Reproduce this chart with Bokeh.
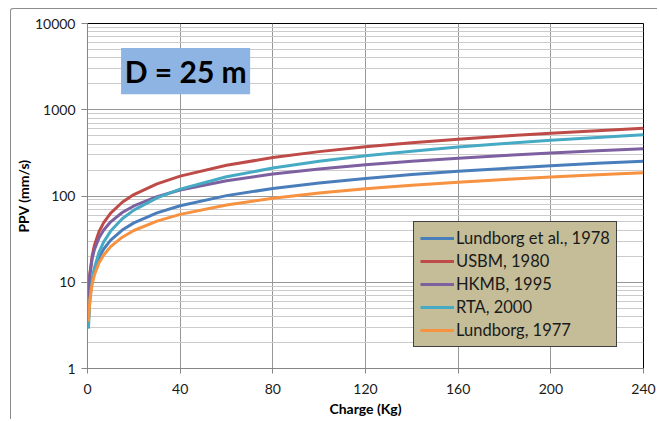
from bokeh.plotting import figure
from bokeh.models import (FixedTicker, NumeralTickFormatter, Legend, LegendItem,
                          BoxAnnotation, Label)
from bokeh.embed import file_html
from bokeh.resources import INLINE

# ---- data (Charge Q in kg, PPV in mm/s) ----
charge = [0.4, 1, 2, 3, 5, 7, 10, 15, 20, 30, 40, 60, 80, 100, 120, 140, 160, 180, 200, 220, 240]

lundborg_1978 = [3.6, 6.7, 10.6, 13.9, 19.4, 24.3, 30.8, 40.3, 48.8, 63.8, 77.2, 101, 122.2,
                 141.8, 160, 177, 193.5, 209, 224, 239, 253]
usbm_1980 = [6.4, 12.3, 20.1, 26.9, 38.7, 49.2, 63.4, 84.6, 103.8, 138.5, 170, 227, 279,
             327, 372, 415, 456, 496, 535, 572, 609]
hkmb_1995 = [7.0, 12.2, 18.7, 24.0, 32.8, 40.3, 50.2, 64.3, 76.7, 98.4, 117.4, 150.5, 179.5,
             205.8, 230, 253, 274.6, 295, 315, 334, 352]
rta_2000 = [2.9, 6.1, 10.65, 14.8, 22.4, 29.4, 39.2, 54.4, 68.6, 95.3, 120.2, 166.9, 210.7,
            252.4, 292.5, 331, 369, 406, 442, 477, 512]
lundborg_1977 = [3.5, 6.2, 9.5, 12.2, 16.8, 20.7, 25.9, 33.3, 39.8, 51.2, 61.2, 78.7, 94.1,
                 108.1, 121, 133.2, 144.7, 155.7, 166.2, 176.3, 186]

series_names = ["Lundborg et al., 1978", "USBM, 1980", "HKMB, 1995", "RTA, 2000", "Lundborg, 1977"]
series_values = [lundborg_1978, usbm_1980, hkmb_1995, rta_2000, lundborg_1977]
series_colors = ["#4A7EBB", "#BE4B48", "#7D60A0", "#46AAC5", "#F69240"]

x_ticks = [0, 40, 80, 120, 160, 200, 240]
y_ticks = [1, 10, 100, 1000, 10000]
y_minor = [m * d for d in [1, 10, 100, 1000] for m in range(2, 10)]

title_text = "D = 25 m"
x_title = "Charge (Kg)"
y_title = "PPV (mm/s)"

FONT = "Lato"

p = figure(width=647, height=411, x_range=(0, 240), y_range=(1, 10000),
           y_axis_type="log", output_backend="svg", toolbar_location=None,
           min_border_left=76, min_border_right=15, min_border_top=14, min_border_bottom=52)

p.margin = (8, 0, 0, 10)
p.styles = {"border-top": "1px solid #8c8c8c", "border-left": "1px solid #8c8c8c",
            "border-top-left-radius": "3px"}

p.outline_line_color = "black"
p.outline_line_width = 1
p.background_fill_color = "white"
p.border_fill_color = "white"

# axes
p.xaxis.ticker = FixedTicker(ticks=x_ticks)
p.yaxis.ticker = FixedTicker(ticks=y_ticks, minor_ticks=y_minor)
p.yaxis.formatter = NumeralTickFormatter(format="0")
for ax in (p.xaxis[0], p.yaxis[0]):
    ax.axis_line_color = "#868686"
    ax.major_tick_line_color = "#868686"
    ax.minor_tick_line_color = None
    ax.major_label_text_font = FONT
    ax.major_label_text_font_size = "14px"
    ax.major_label_text_color = "#1a1a1a"
    ax.axis_label_text_font = FONT
    ax.axis_label_text_font_style = "bold"
    ax.axis_label_text_font_size = "14px"
    ax.axis_label_text_color = "black"
p.yaxis.major_tick_out = 6
p.yaxis.major_tick_in = 0
p.yaxis.major_label_standoff = 6
p.xaxis.major_tick_out = 5
p.xaxis.major_tick_in = 0
p.xaxis.major_label_standoff = 10
p.yaxis.axis_label = y_title
p.xaxis.axis_label = x_title
p.yaxis.axis_label_standoff = 0
p.xaxis.axis_label_standoff = 3

# grids
p.xgrid.grid_line_color = "#979797"
p.ygrid.grid_line_color = "#979797"
p.ygrid.minor_grid_line_color = "#cbcbcb"
p.xgrid.minor_grid_line_color = None

# series
items = []
for name, vals, col in zip(series_names, series_values, series_colors):
    r = p.line(charge, vals, line_color=col, line_width=3)
    items.append(LegendItem(label=name, renderers=[r]))

legend = Legend(items=items, location=(326, 21))
legend.background_fill_color = "#C4BD97"
legend.background_fill_alpha = 1
legend.border_line_color = "#404040"
legend.border_line_width = 1
legend.border_line_alpha = 1
legend.label_text_font = FONT
legend.label_text_font_size = "16.5px"
legend.label_text_color = "#1a1a1a"
legend.glyph_width = 34
legend.glyph_height = 20
legend.label_height = 20
legend.label_standoff = 2
legend.spacing = 3
legend.padding = 6
legend.margin = 0
p.add_layout(legend, "center")

# title box
box = BoxAnnotation(left=14.5, right=70.2, bottom=1514, top=5190,
                    fill_color="#8DB4E2", fill_alpha=1, line_color=None)
p.add_layout(box)
lab = Label(x=42.4, y=2805, text=title_text, text_align="center", text_baseline="middle",
            text_font=FONT, text_font_style="bold", text_font_size="30px", text_color="black")
p.add_layout(lab)

open("out.html", "w").write(file_html(p, INLINE))
